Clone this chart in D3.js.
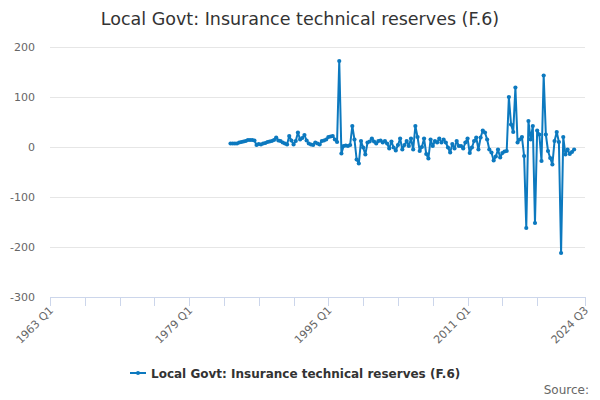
<!DOCTYPE html>
<html><head><meta charset="utf-8">
<script src="https://cdn.jsdelivr.net/npm/d3@7"></script>
<style>body{margin:0;background:#fff;}svg{display:block;font-family:"DejaVu Sans",sans-serif;}</style>
</head><body><svg id="c" width="600" height="400"></svg>
<script>
const title = "Local Govt: Insurance technical reserves (F.6)";
const seriesName = "Local Govt: Insurance technical reserves (F.6)";
const firstYear = 1963;          // axis starts 1963 Q1
const lastCategory = "2024 Q3";  // axis ends here
const dataStart = "1983 Q4";
const values = [
  7,7,7,7,9,10,11,12,14,14,
  14,13,4,6,5,7,8,10,11,12,
  14,19,13,12,9,7,5,22,13,5,
  12,29,15,18,24,13,7,5,4,9,
  7,5,12,13,15,20,21,22,15,10,
  172,
  -13,2,3,2,4,42,15,-25,-33,12,
  -1,-15,9,11,17,11,7,12,13,9,
  12,7,-3,11,-1,-7,4,17,-5,4,
  12,2,17,-5,42,20,-8,0,17,-14,
  -23,15,2,12,9,17,9,15,9,-1,
  -11,6,-3,12,2,2,-3,9,17,-12,
  -1,12,19,-5,19,33,29,15,-5,-11,
  -27,-19,-5,-21,-12,-9,-8,
  100,45,30,119,9,15,20,-18,-162,52,
  15,42,-152,33,25,-28,143,25,-8,-22,
  -35,12,30,10,-212,20,-15,-5,-14,-10,
  -5
];
const yTicks = [-300,-200,-100,0,100,200];
const xTickLabels = ["1963 Q1","1979 Q1","1995 Q1","2011 Q1","2024 Q3"];
const source = "Source:";

// categories
const categories = [];
for (let yr = firstYear; ; yr++) {
  let done = false;
  for (let q = 1; q <= 4; q++) {
    const c = yr + " Q" + q;
    categories.push(c);
    if (c === lastCategory) { done = true; break; }
  }
  if (done) break;
}
const startIdx = categories.indexOf(dataStart);
const data = values.map((v, k) => ({i: startIdx + k, v}));

const svg = d3.select("#c");
const pL = 50, pR = 585, pT = 47, pB = 297;
const x = d3.scaleLinear().domain([0, categories.length - 1]).range([pL, pR]);
const y = d3.scaleLinear().domain([-300, 200]).range([pB, pT]);

svg.append("text").attr("x", 300).attr("y", 25).attr("text-anchor", "middle")
  .attr("font-size", "17.5px").attr("fill", "#333").text(title);

// grid + y labels
const g = svg.append("g");
yTicks.forEach(t => {
  if (t !== -300) g.append("line").attr("x1", pL).attr("x2", pR)
    .attr("y1", Math.round(y(t)) + 0.5).attr("y2", Math.round(y(t)) + 0.5).attr("stroke", "#e6e6e6").attr("stroke-width", 1);
  g.append("text").attr("x", 35).attr("y", y(t) + 4).attr("text-anchor", "end")
    .attr("font-size", "11px").attr("fill", "#666").text(t);
});

// x axis
const xa = svg.append("g");
xa.append("line").attr("x1", pL).attr("x2", pR).attr("y1", pB + 0.5).attr("y2", pB + 0.5)
  .attr("stroke", "#ccd6eb");
const tickIdx = d3.range(0, categories.length - 16, 16).concat([categories.length - 1]);
tickIdx.forEach(i => {
  xa.append("line").attr("x1", Math.round(x(i)) + 0.5).attr("x2", Math.round(x(i)) + 0.5)
    .attr("y1", pB).attr("y2", pB + 9).attr("stroke", "#ccd6eb");
});
xTickLabels.forEach(lbl => {
  const i = categories.indexOf(lbl);
  xa.append("text").attr("transform", `translate(${x(i) + 4},${pB + 14}) rotate(-45)`)
    .attr("text-anchor", "end").attr("font-size", "11px").attr("fill", "#666").text(lbl);
});

// series
const color = "#0c79bf";
const line = d3.line().x(d => x(d.i)).y(d => y(d.v));
svg.append("path").datum(data).attr("d", line).attr("fill", "none")
  .attr("stroke", color).attr("stroke-width", 2).attr("stroke-linejoin", "round");
svg.append("g").selectAll("circle").data(data).join("circle")
  .attr("cx", d => x(d.i)).attr("cy", d => y(d.v)).attr("r", 2.1).attr("fill", color);

// legend
const lg = svg.append("g");
lg.append("line").attr("x1", 130).attr("x2", 146).attr("y1", 373).attr("y2", 373)
  .attr("stroke", color).attr("stroke-width", 2);
lg.append("circle").attr("cx", 138).attr("cy", 373).attr("r", 2).attr("fill", color);
lg.append("text").attr("x", 151).attr("y", 377.5).attr("font-size", "12px").attr("font-weight", "bold")
  .attr("fill", "#333").text(seriesName);

svg.append("text").attr("x", 589).attr("y", 394).attr("text-anchor", "end")
  .attr("font-size", "12px").attr("fill", "#666").text(source);
</script></body></html>
